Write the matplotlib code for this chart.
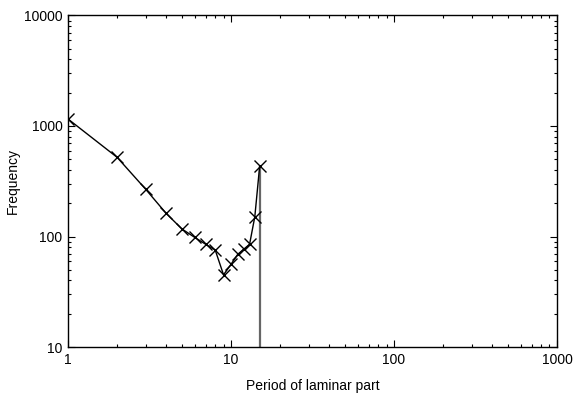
import matplotlib
matplotlib.use("Agg")
import matplotlib.pyplot as plt
import numpy as np

# laminar-part period distribution
period = [1, 2, 3, 4, 5, 6, 7, 8, 9, 10, 11, 12, 13, 14, 15]
frequency = [1157, 521, 267, 162, 117, 98, 85, 75.5, 45, 56, 69, 77, 85, 151, 437]

plt.rcParams.update({
    "font.family": ["Liberation Sans", "DejaVu Sans"],
    "font.size": 10,
})

fig = plt.figure(figsize=(5.73, 3.93), dpi=100)
ax = fig.add_axes([0.1187, 0.117, 0.8533, 0.8436])

ax.plot(period, frequency, color="black", linewidth=1.0, marker="x",
        markersize=9, markeredgewidth=1.0)
# drop to zero after the last period
ax.vlines(period[-1], 10, frequency[-1], color="#666666", linewidth=1.6, zorder=1)

ax.set_xscale("log")
ax.set_yscale("log")
ax.set_xlim(1, 1000)
ax.set_ylim(10, 10000)
ax.set_xticks([1, 10, 100, 1000])
ax.set_xticklabels(["1", "10", "100", "1000"])
ax.set_yticks([10, 100, 1000, 10000])
ax.set_yticklabels(["10", "100", "1000", "10000"])
ax.tick_params(which="both", direction="in", top=True, right=True, width=0.8)
ax.tick_params(which="major", length=5, pad=4)
ax.tick_params(which="minor", length=2.5)
for s in ax.spines.values():
    s.set_linewidth(1.0)

ax.set_xlabel("Period of laminar part", labelpad=9)
ax.set_ylabel("Frequency", labelpad=3)

fig.savefig("out.png", dpi=100)
